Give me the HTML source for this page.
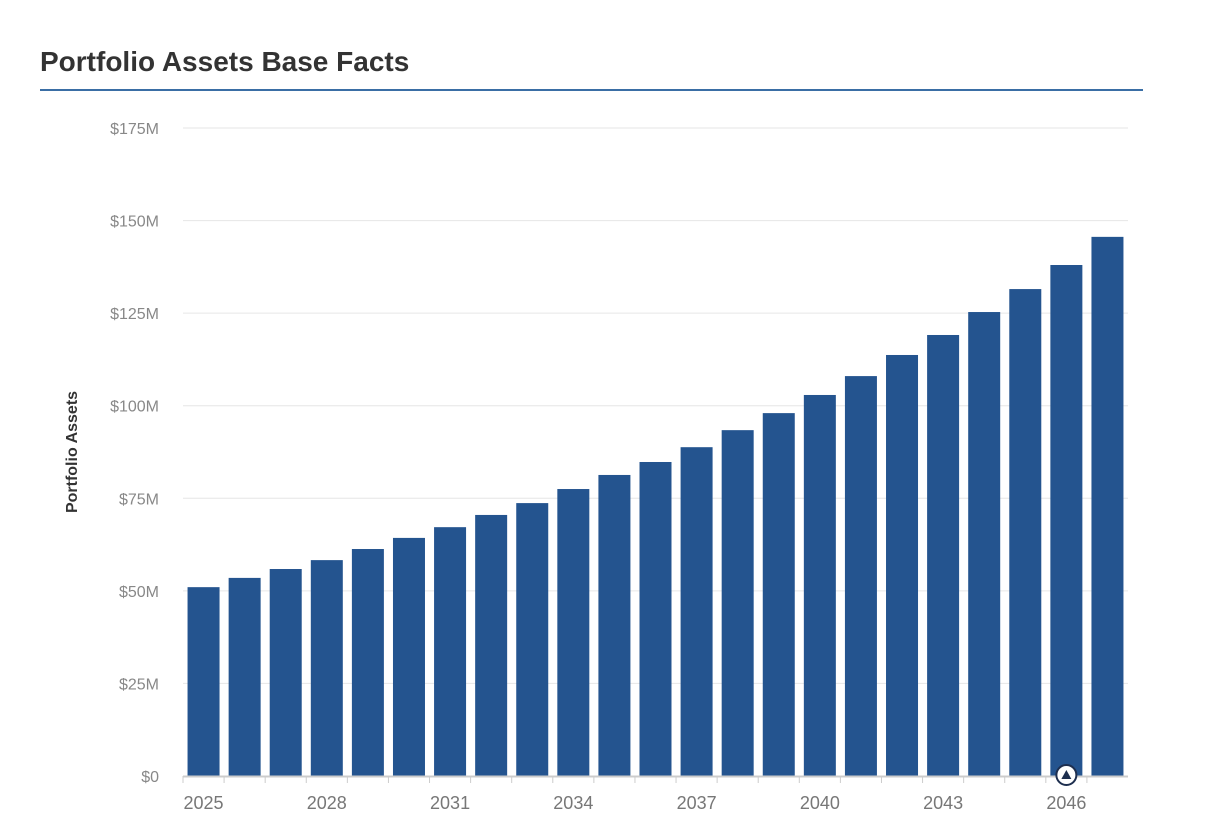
<!DOCTYPE html>
<html><head><meta charset="utf-8"><style>
body{margin:0;background:#fff;width:1224px;height:822px;overflow:hidden;font-family:"Liberation Sans",Arial,sans-serif}
</style></head><body>
<svg id="chart" width="1224" height="822" xmlns="http://www.w3.org/2000/svg">
<text x="40" y="71" font-size="28" font-weight="bold" fill="#333">Portfolio Assets Base Facts</text>
<rect x="40" y="89" width="1103" height="2" fill="#3a6ea5"/>
<text transform="translate(77,452) rotate(-90)" text-anchor="middle" font-size="16" font-weight="bold" fill="#333">Portfolio Assets</text>
<g id="grid"></g><g id="bars"></g><g id="xaxis"></g>
</svg>
<script>
const years=[2025,2026,2027,2028,2029,2030,2031,2032,2033,2034,2035,2036,2037,2038,2039,2040,2041,2042,2043,2044,2045,2046,2047];
const assets=[51.0,53.5,55.9,58.3,61.3,64.3,67.2,70.5,73.7,77.5,81.3,84.8,88.8,93.4,98.0,102.9,108.0,113.7,119.1,125.3,131.5,138.0,145.6];
const yTicks=[0,25,50,75,100,125,150,175];
const xLabelYears=[2025,2028,2031,2034,2037,2040,2043,2046];
const markerYear=2046;
const NS="http://www.w3.org/2000/svg";
const L=183,R=1128,T=128,B=776,yMax=175;
const band=(R-L)/years.length,bw=32;
const y=v=>B-(v/yMax)*(B-T);
const xc=i=>L+band*(i+0.5);
function mk(tag,attrs,parent,text){const e=document.createElementNS(NS,tag);for(const k in attrs)e.setAttribute(k,attrs[k]);if(text!==undefined)e.textContent=text;parent.appendChild(e);return e;}
const grid=document.getElementById('grid'),bars=document.getElementById('bars'),xa=document.getElementById('xaxis');
yTicks.forEach(t=>{
 if(t>0){const l=mk('line',{x1:L,x2:R,y1:y(t),y2:y(t),stroke:'#e6e6e6','stroke-width':1},grid);
 
 }
 const tx=mk('text',{x:159,y:y(t)+6,'text-anchor':'end','font-size':16,fill:'#888'},grid,'$'+t+(t?'M':''));
 
 
});
years.forEach((yr,i)=>{
 const r=mk('rect',{x:xc(i)-bw/2,y:y(assets[i]),width:bw,height:B-y(assets[i]),fill:'#24548f'},bars);
 
 
});
const ax=mk('line',{x1:L,x2:R,y1:B+0.5,y2:B+0.5,stroke:'#ccc','stroke-width':2},xa);


years.forEach((yr,i)=>{
 const tk=mk('line',{x1:L+band*i,x2:L+band*i,y1:B,y2:B+7,stroke:'#ccc','stroke-width':1},xa);
 
 
 if(xLabelYears.includes(yr)){
  const t=mk('text',{x:xc(i),y:B+33,'text-anchor':'middle','font-size':18,fill:'#777'},xa,String(yr));
  
  
 }
});
const mi=years.indexOf(markerYear);
const g=mk('g',{},xa);


mk('circle',{cx:xc(mi),cy:B-1,r:10,fill:'#fff',stroke:'#1e2f4f','stroke-width':2},g);
mk('polygon',{points:`${xc(mi)-5},${B+3} ${xc(mi)+5},${B+3} ${xc(mi)},${B-6}`,fill:'#1e2f4f'},g);
</script>
</body></html>
